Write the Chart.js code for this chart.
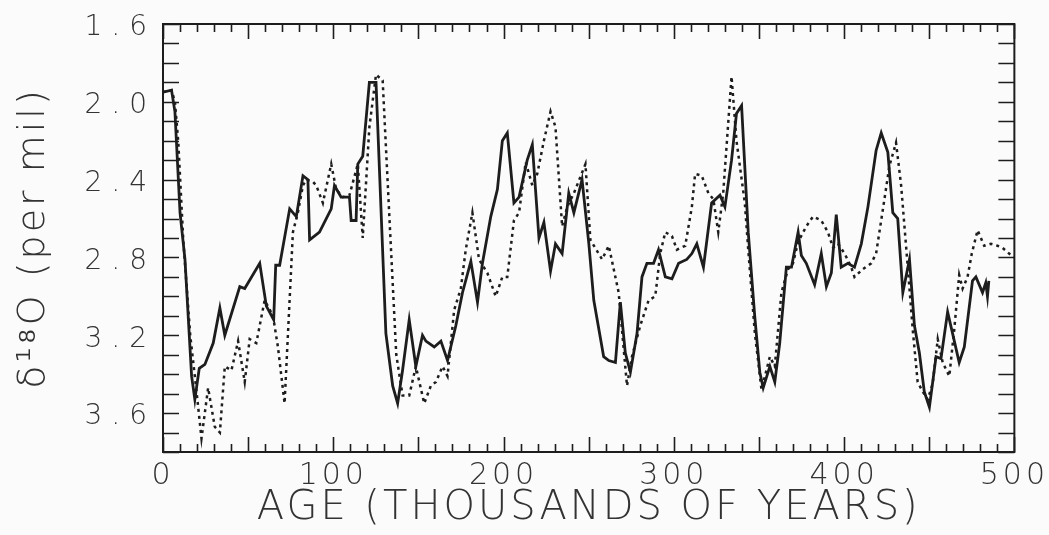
<!DOCTYPE html>
<html>
<head>
<meta charset="utf-8">
<script src="https://cdn.jsdelivr.net/npm/chart.js@4.4.0/dist/chart.umd.min.js"></script>
<style>
  html, body { margin: 0; padding: 0; background: #fafbfa; }
  #wrap { position: relative; width: 1049px; height: 535px; }
</style>
</head>
<body>
<div id="wrap"><canvas id="d18o"></canvas></div>
<script>
// δ18O – ikki yozuv: yaxlit chiziq va punktir.

const INK = "#1d1d1d";
const TXT = "#333333";
const FONT = "'DejaVu Sans', sans-serif";

// Yaxlit chiziq (ming yil / per mil)
const solidAge = [
  0, 5, 7, 10, 12.9, 16.8, 18.7, 21.3, 24.6, 29.5, 33.4, 36.3, 45.1, 48, 56.8, 60.7, 65, 66.2, 68.5,
  74.4, 78.3, 82.2, 85.1, 86.1, 91.9, 98.8, 100.7, 104.6, 109.5, 110.5, 113.4, 114.4, 117.3, 121.2,
  125.1, 130.9, 134.9, 137.8, 140.7, 144.6, 148.5, 152.4, 154.4, 159.3, 163.2, 167.1, 172, 175.9,
  180.8, 184.7, 187.6, 192.5, 196.4, 199.3, 202.2, 206.1, 209.1, 213.9, 216.9, 220.8, 223.7, 227.6,
  230.5, 234.4, 238.3, 241.3, 246.1, 250.1, 253, 258.8, 261.8, 265.7, 268.6, 271.5, 274.5, 278.4,
  281.3, 284.2, 288.1, 291, 295, 298.9, 302.8, 307.6, 310.6, 313.5, 317.4, 322.2, 327.1, 330, 333.9,
  336.8, 339.8, 343.7, 347.5, 350.5, 352.5, 356.4, 359.3, 362.2, 366.1, 369.1, 373, 374.9, 377.8,
  382.7, 386.6, 389.6, 392.5, 395.4, 398.3, 402.2, 406.1, 410.1, 414, 418.8, 421.8, 425.7, 428.6,
  431.5, 434.5, 438.4, 441.3, 444.2, 447.1, 450.1, 454, 456.9, 460.8, 463.7, 467.6, 470.6, 475.4,
  477.4, 481.3, 483.2, 484.2, 485,
];
const solidD18O = [
  1.95, 1.94, 2.05, 2.57, 2.81, 3.41, 3.53, 3.37, 3.35, 3.24, 3.06, 3.2, 2.95, 2.96, 2.83, 3.05, 3.12, 2.84, 2.84,
  2.55, 2.59, 2.38, 2.4, 2.71, 2.67, 2.55, 2.43, 2.49, 2.49, 2.61, 2.61, 2.32, 2.28, 1.9,
  1.9, 3.19, 3.46, 3.55, 3.38, 3.12, 3.36, 3.2, 3.23, 3.26, 3.23, 3.33, 3.15, 2.98,
  2.82, 3.03, 2.83, 2.59, 2.45, 2.2, 2.16, 2.52, 2.49, 2.3, 2.22, 2.7, 2.62, 2.87,
  2.73, 2.78, 2.47, 2.57, 2.4, 2.73, 3.02, 3.31, 3.33, 3.34, 3.03, 3.29, 3.39, 3.19,
  2.9, 2.83, 2.83, 2.76, 2.9, 2.91, 2.83, 2.81, 2.78, 2.73, 2.85, 2.52, 2.48, 2.54, 2.3,
  2.06, 2.02, 2.67, 3.1, 3.39, 3.47, 3.36, 3.44, 3.24, 2.85, 2.85, 2.67, 2.79, 2.83,
  2.94, 2.78, 2.95, 2.88, 2.58, 2.85, 2.83, 2.85, 2.73, 2.54, 2.25, 2.16, 2.26, 2.57,
  2.6, 2.98, 2.81, 3.15, 3.29, 3.49, 3.57, 3.31, 3.32, 3.08, 3.19, 3.34, 3.26, 2.92,
  2.9, 2.98, 2.93, 3.0, 2.92,
];

// Punktir chiziq
const dottedAge = [
  0, 5, 7, 9, 11.9, 16, 19.7, 22.6, 26.5, 30.4, 33.4, 36.3, 40.2, 44.1, 48, 50.9, 54.8, 59.7, 64.6,
  67.5, 71.4, 76.3, 79.2, 82.2, 84.1, 88, 90, 93.9, 98.8, 101.7, 105.6, 109.5, 114.4, 117.3, 121.2,
  125.1, 129, 133, 137, 140.7, 144.6, 148.5, 153.4, 157.3, 160.3, 164.2, 167.1, 171, 174.9, 177.8,
  181.7, 185.6, 190.5, 195.4, 199.3, 202.2, 206.1, 209.1, 213, 216.9, 219.8, 223.7, 227.6, 230.5,
  234.4, 237.4, 241.3, 248.1, 251, 257.9, 261.8, 267.6, 272.5, 275.4, 280.3, 285.2, 289.1, 292,
  295, 298.9, 301.8, 306.7, 310.6, 312.5, 316.4, 320.3, 323.2, 326.1, 329, 333.9, 336.8, 341.7,
  343.7, 347.6, 351.5, 356.4, 359.3, 363.2, 367.1, 370, 373, 377.8, 381.7, 386.6, 390.5, 393.5,
  396.4, 400.3, 404.2, 406.1, 411, 415.9, 418.8, 423.7, 426.6, 430.5, 433.5, 437.4, 440.3, 443.2,
  446.2, 449.1, 452, 455, 457.9, 461.8, 464.7, 467.6, 469.6, 472.5, 475, 478.4, 482.3, 486.2,
  490.1, 493, 496.9, 500,
];
const dottedD18O = [
  1.95, 1.94, 2.0, 2.21, 2.71, 3.2, 3.49, 3.73, 3.47, 3.67, 3.7, 3.36, 3.38, 3.23, 3.44, 3.22, 3.24, 3.02, 3.1,
  3.26, 3.55, 2.67, 2.57, 2.43, 2.4, 2.41, 2.43, 2.52, 2.32, 2.45, 2.49, 2.48, 2.32, 2.7, 2.13,
  1.86, 1.89, 2.6, 3.3, 3.51, 3.51, 3.36, 3.55, 3.46, 3.44, 3.36, 3.41, 3.07, 2.96, 2.76,
  2.57, 2.81, 2.88, 3.0, 2.9, 2.9, 2.61, 2.57, 2.31, 2.43, 2.37, 2.2, 2.05, 2.13,
  2.64, 2.54, 2.47, 2.32, 2.71, 2.81, 2.74, 2.98, 3.46, 3.31, 3.15, 3.02, 3.0, 2.78,
  2.67, 2.69, 2.76, 2.74, 2.54, 2.37, 2.38, 2.47, 2.5, 2.67, 2.47, 1.87, 2.2, 2.52,
  2.76, 3.19, 3.48, 3.31, 3.36, 2.98, 2.86, 2.83, 2.72, 2.64, 2.59, 2.61, 2.67, 2.75,
  2.73, 2.78, 2.85, 2.9, 2.86, 2.83, 2.78, 2.5, 2.33, 2.21, 2.43, 2.85, 3.17, 3.44,
  3.49, 3.53, 3.45, 3.22, 3.34, 3.41, 3.17, 2.89, 2.96, 2.9, 2.78, 2.66, 2.74, 2.73,
  2.74, 2.75, 2.78, 2.8,
];

const X_MIN = 0, X_MAX = 500, X_STEP = 10, X_LABEL_EVERY = 100;
const Y_MIN = 1.6, Y_MAX = 3.8, Y_STEP = 0.1;

const toPoints = (xs, ys) => xs.map((x, i) => ({ x, y: ys[i] }));

// Harflar orasidagi masofa: asl rasmdagi shrift keng yozilgan
const LABEL_SPACING = { x: "4px", y: "9px" };

// Ramka va ichkariga qaragan tik belgilari (asl rasmdagidek)
const frameTicks = {
  id: "frameTicks",
  beforeLayout(chart) { chart.ctx.letterSpacing = "0px"; },
  afterLayout(chart) {
    for (const id of ["x", "y"]) {
      const s = chart.scales[id];
      if (!s || s._spaced) continue;
      const orig = s.drawLabels.bind(s);
      s.drawLabels = (area) => {
        const c = s.ctx, prev = c.letterSpacing;
        c.letterSpacing = LABEL_SPACING[id];
        orig(area);
        c.letterSpacing = prev;
      };
      s._spaced = true;
    }
  },
  beforeDraw(chart) { chart.ctx.letterSpacing = "3px"; },
  beforeDatasetsDraw(chart) {
    const { ctx, chartArea: a, scales: { x, y } } = chart;
    ctx.save();
    ctx.strokeStyle = INK;
    ctx.lineWidth = 2;
    ctx.strokeRect(a.left, a.top, a.right - a.left, a.bottom - a.top);
    ctx.beginPath();
    for (const t of x.ticks) {
      const px = Math.round(x.getPixelForValue(t.value)) + 0.5;
      const len = t.value % 50 === 0 ? 15 : 8;
      ctx.moveTo(px, a.bottom); ctx.lineTo(px, a.bottom - len);
      ctx.moveTo(px, a.top); ctx.lineTo(px, a.top + len);
    }
    for (const t of y.ticks) {
      const py = Math.round(y.getPixelForValue(t.value)) + 0.5;
      ctx.moveTo(a.left, py); ctx.lineTo(a.left + 16, py);
      ctx.moveTo(a.right, py); ctx.lineTo(a.right - 16, py);
    }
    ctx.lineWidth = 1.6;
    ctx.stroke();
    ctx.restore();
  },
};

new Chart(document.getElementById("d18o"), {
  type: "line",
  data: {
    datasets: [
      {
        label: "solid",
        data: toPoints(solidAge, solidD18O),
        borderColor: INK,
        borderWidth: 2.8,
        pointRadius: 0,
        tension: 0,
      },
      {
        label: "dotted",
        data: toPoints(dottedAge, dottedD18O),
        borderColor: INK,
        borderWidth: 2.5,
        borderDash: [3, 4],
        pointRadius: 0,
        tension: 0,
      },
    ],
  },
  options: {
    responsive: true,
    maintainAspectRatio: false,
    animation: false,
    layout: { padding: { top: 24, right: 32, left: 0, bottom: 0 } },
    plugins: { legend: { display: false }, tooltip: { enabled: false } },
    scales: {
      x: {
        type: "linear",
        min: X_MIN, max: X_MAX,
        grid: { display: false, drawTicks: false },
        border: { display: false },
        afterFit: (s) => { s.height = 83; },
        ticks: {
          stepSize: X_STEP,
          autoSkip: false,
          maxRotation: 0,
          padding: 6,
          color: TXT,
          font: { family: FONT, size: 30, weight: "200" },
          callback: (v) => (v % X_LABEL_EVERY === 0 ? String(v) : ""),
        },
        title: {
          display: true,
          text: "AGE (THOUSANDS OF YEARS)",
          color: TXT,
          font: { family: FONT, size: 40, weight: "200" },
          padding: { top: 0, bottom: 2 },
        },
      },
      y: {
        type: "linear",
        reverse: true,
        min: Y_MIN, max: Y_MAX,
        grid: { display: false, drawTicks: false },
        border: { display: false },
        afterFit: (s) => { s.width = 163; },
        ticks: {
          stepSize: Y_STEP,
          autoSkip: false,
          padding: 7,
          labelOffset: 4,
          color: TXT,
          font: { family: FONT, size: 28, weight: "200" },
          callback: (v) => {
            const k = Math.round(v * 10);
            return k % 4 === 0 ? (k / 10).toFixed(1) : "";
          },
        },
        title: {
          display: true,
          text: "δ¹⁸O (per mil)",
          color: TXT,
          font: { family: FONT, size: 38, weight: "200" },
          padding: { top: 11, bottom: 0 },
        },
      },
    },
  },
  plugins: [frameTicks],
});
</script>
</body>
</html>
